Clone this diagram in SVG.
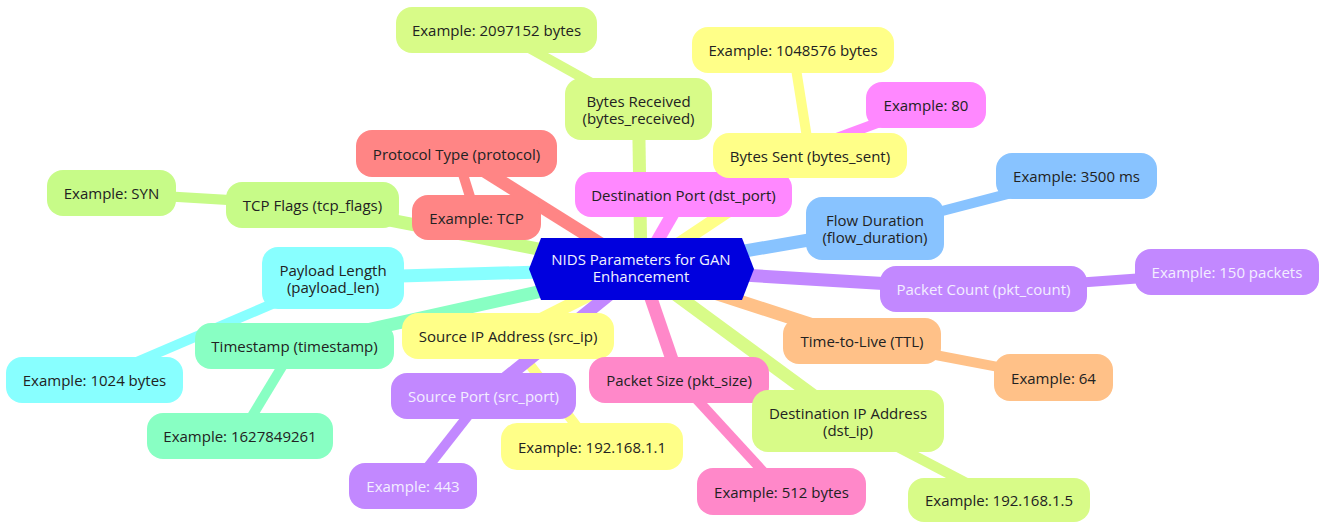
<svg xmlns="http://www.w3.org/2000/svg" width="1322" height="522" viewBox="0 0 1322 522">
<style>
text{font-family:"Open Sans","Noto Sans","DejaVu Sans",sans-serif;font-size:15px;fill:#222;text-anchor:middle;dominant-baseline:central}
.w text, text.w{fill:#f3eeff}
.e1{stroke-width:13;stroke-linecap:butt;fill:none}
.e2{stroke-width:10;stroke-linecap:butt;fill:none}
.red{fill:#ff8585}.redS{stroke:#ff8585}
.lime1{fill:#c7fb88}.lime1S{stroke:#c7fb88}
.lime2{fill:#d8fb88}.lime2S{stroke:#d8fb88}
.cyan{fill:#88ffff}.cyanS{stroke:#88ffff}
.mint{fill:#88ffc3}.mintS{stroke:#88ffc3}
.yel{fill:#ffff88}.yelS{stroke:#ffff88}
.pur{fill:#c288ff}.purS{stroke:#c288ff}
.pink{fill:#ff88c9}.pinkS{stroke:#ff88c9}
.ora{fill:#ffc188}.oraS{stroke:#ffc188}
.blue{fill:#88c3ff}.blueS{stroke:#88c3ff}
.mag{fill:#ff88ff}.magS{stroke:#ff88ff}
</style>
<g id="connectors">
  <!-- depth 2 -->
  <line class="e2 lime2S" x1="496.5" y1="30" x2="638.5" y2="109"/>
  <line class="e2 yelS" x1="793" y1="50" x2="810" y2="156.5"/>
  <line class="e2 magS" x1="926" y1="105" x2="684" y2="194.5"/>
  <line class="e2 redS" x1="476.5" y1="217.5" x2="456.5" y2="153.5"/>
  <line class="e2 lime1S" x1="111.5" y1="193" x2="312.5" y2="205"/>
  <line class="e2 cyanS" x1="94.5" y1="380" x2="333" y2="278"/>
  <line class="e2 mintS" x1="240" y1="436" x2="294.5" y2="346"/>
  <line class="e2 yelS" x1="592" y1="446.5" x2="508" y2="336"/>
  <line class="e2 purS" x1="413" y1="486" x2="483.5" y2="396"/>
  <line class="e2 pinkS" x1="781.5" y1="491.5" x2="679" y2="380"/>
  <line class="e2 lime2S" x1="999" y1="500" x2="848" y2="421"/>
  <line class="e2 oraS" x1="1053.5" y1="377.5" x2="862" y2="341"/>
  <line class="e2 purS" x1="1227" y1="272" x2="983.5" y2="289.5"/>
  <line class="e2 blueS" x1="1076.5" y1="176" x2="875" y2="228.5"/>
  <!-- depth 1 -->
  <line class="e1 lime2S" x1="641" y1="269" x2="638.5" y2="109"/>
  <line class="e1 yelS" x1="641" y1="269" x2="810" y2="156.5"/>
  <line class="e1 magS" x1="641" y1="269" x2="684" y2="194.5"/>
  <line class="e1 redS" x1="641" y1="269" x2="456.5" y2="153.5"/>
  <line class="e1 lime1S" x1="641" y1="269" x2="312.5" y2="205"/>
  <line class="e1 cyanS" x1="641" y1="269" x2="333" y2="278"/>
  <line class="e1 mintS" x1="641" y1="269" x2="294.5" y2="346"/>
  <line class="e1 yelS" x1="641" y1="269" x2="508" y2="336"/>
  <line class="e1 purS" x1="641" y1="269" x2="483.5" y2="396"/>
  <line class="e1 pinkS" x1="641" y1="269" x2="679" y2="380"/>
  <line class="e1 lime2S" x1="641" y1="269" x2="848" y2="421"/>
  <line class="e1 oraS" x1="641" y1="269" x2="862" y2="341"/>
  <line class="e1 purS" x1="641" y1="269" x2="983.5" y2="289.5"/>
  <line class="e1 blueS" x1="641" y1="269" x2="875" y2="228.5"/>
</g>
<g id="n-ex-2097152"><rect class="lime2" x="396" y="7" width="201" height="46" rx="16"/><text x="496.5" y="30">Example: 2097152 bytes</text></g>
<g id="n-bytes-received"><rect class="lime2" x="565" y="78" width="147" height="62" rx="16"/><text x="638.5" y="100.5">Bytes Received</text><text x="638.5" y="117.5">(bytes_received)</text></g>
<g id="n-ex-1048576"><rect class="yel" x="692" y="27" width="202" height="46" rx="16"/><text x="793" y="50">Example: 1048576 bytes</text></g>
<g id="n-ex-80"><rect class="mag" x="866" y="82" width="120" height="46" rx="16"/><text x="926" y="105">Example: 80</text></g>
<g id="n-dst-port"><rect class="mag" x="575" y="172" width="217" height="45" rx="16"/><text x="683.5" y="194.5">Destination Port (dst_port)</text></g>
<g id="n-bytes-sent"><rect class="yel" x="713" y="133" width="194" height="45" rx="16"/><text x="810" y="155.5">Bytes Sent (bytes_sent)</text></g>
<g id="n-protocol"><rect class="red" x="356" y="130" width="201" height="47" rx="16"/><text x="456.5" y="153.5">Protocol Type (protocol)</text></g>
<g id="n-ex-tcp"><rect class="red" x="412" y="195" width="129" height="45" rx="16"/><text x="476.5" y="217.5">Example: TCP</text></g>
<g id="n-tcp-flags"><rect class="lime1" x="226" y="182" width="173" height="46" rx="16"/><text x="312.5" y="205">TCP Flags (tcp_flags)</text></g>
<g id="n-ex-syn"><rect class="lime1" x="47" y="170" width="129" height="46" rx="16"/><text x="111.5" y="193">Example: SYN</text></g>
<g id="n-payload"><rect class="cyan" x="262" y="247" width="142" height="62" rx="16"/><text x="333" y="269.5">Payload Length</text><text x="333" y="286.5">(payload_len)</text></g>
<g id="n-ex-1024"><rect class="cyan" x="6" y="357" width="177" height="46" rx="16"/><text x="94.5" y="380">Example: 1024 bytes</text></g>
<g id="n-timestamp"><rect class="mint" x="195" y="323" width="199" height="46" rx="16"/><text x="294.5" y="346">Timestamp (timestamp)</text></g>
<g id="n-ex-1627849261"><rect class="mint" x="147" y="413" width="186" height="46" rx="16"/><text x="240" y="436">Example: 1627849261</text></g>
<g id="n-src-ip"><rect class="yel" x="402" y="313" width="212" height="46" rx="16"/><text x="508" y="336">Source IP Address (src_ip)</text></g>
<g id="n-src-port" class="w"><rect class="pur" x="391" y="373" width="185" height="46" rx="16"/><text x="483.5" y="396">Source Port (src_port)</text></g>
<g id="n-ex-443" class="w"><rect class="pur" x="349" y="463" width="128" height="46" rx="16"/><text x="413" y="486">Example: 443</text></g>
<g id="n-ex-192-1"><rect class="yel" x="501" y="423" width="182" height="47" rx="16"/><text x="592" y="446.5">Example: 192.168.1.1</text></g>
<g id="n-pkt-size"><rect class="pink" x="589" y="357" width="180" height="46" rx="16"/><text x="679" y="380">Packet Size (pkt_size)</text></g>
<g id="n-ex-512"><rect class="pink" x="697" y="468" width="169" height="47" rx="16"/><text x="781.5" y="491.5">Example: 512 bytes</text></g>
<g id="n-dst-ip"><rect class="lime2" x="752" y="390" width="192" height="62" rx="16"/><text x="848" y="412.5">Destination IP Address</text><text x="848" y="429.5">(dst_ip)</text></g>
<g id="n-ex-192-5"><rect class="lime2" x="908" y="478" width="182" height="44" rx="16"/><text x="999" y="500">Example: 192.168.1.5</text></g>
<g id="n-ttl"><rect class="ora" x="783" y="318" width="158" height="46" rx="16"/><text x="862" y="341">Time-to-Live (TTL)</text></g>
<g id="n-ex-64"><rect class="ora" x="994" y="354" width="119" height="47" rx="16"/><text x="1053.5" y="377.5">Example: 64</text></g>
<g id="n-pkt-count" class="w"><rect class="pur" x="880" y="266" width="207" height="46" rx="16"/><text x="983.5" y="289">Packet Count (pkt_count)</text></g>
<g id="n-ex-150" class="w"><rect class="pur" x="1135" y="249" width="184" height="46" rx="16"/><text x="1227" y="272">Example: 150 packets</text></g>
<g id="n-flow-duration"><rect class="blue" x="806" y="197" width="138" height="63" rx="16"/><text x="875" y="220">Flow Duration</text><text x="875" y="237">(flow_duration)</text></g>
<g id="n-ex-3500"><rect class="blue" x="996" y="153" width="161" height="46" rx="16"/><text x="1076.5" y="176">Example: 3500 ms</text></g>
<g id="n-root"><polygon points="529,269 541,238 742,238 754,269 742,300 541,300" fill="#0000de"/><text x="641" y="258.5" style="fill:#f0f0ff">NIDS Parameters for GAN</text><text x="641" y="275.5" style="fill:#f0f0ff">Enhancement</text></g>
</svg>
